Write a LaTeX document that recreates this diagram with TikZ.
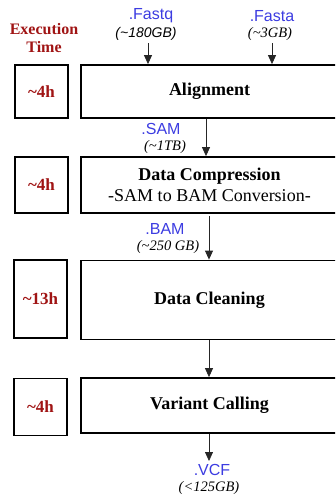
\documentclass[tikz,border=0pt]{standalone}
\usepackage{fontspec}
\setmainfont{Liberation Serif}
\newfontfamily\arialf{Liberation Sans}
\usetikzlibrary{arrows.meta}
\definecolor{dred}{RGB}{160,20,20}
\definecolor{fblue}{RGB}{60,60,225}
\tikzset{
  stagebox/.style={draw, line width=1.8pt, minimum width=257pt, inner sep=0pt, align=center, font=\fontsize{18}{21}\selectfont},
  timebox/.style={draw, line width=1.8pt, minimum width=53pt, inner sep=0pt, text=dred, font=\fontsize{17}{20}\selectfont\bfseries},
  ext/.style={text=fblue, inner sep=0pt, font=\arialf\fontsize{16}{18}\selectfont},
  sizeit/.style={inner sep=0pt, font=\fontsize{14.5}{17}\selectfont\itshape},
  arr/.style={-{Triangle[width=8pt,length=9pt]}, line width=0.8pt, black!85}
}
\begin{document}
\begin{tikzpicture}[x=1pt,y=-1pt]
\useasboundingbox (0,0) rectangle (335,498);
\clip (0,0) rectangle (335,498);
% header
\node[text=dred, inner sep=0pt, align=center, font=\fontsize{16}{17.5}\selectfont\bfseries] (hdr) at (44,38) {Execution\\Time};
% stages
\node[stagebox, minimum height=53pt] (align) at (209.5,91.5) {\bfseries Alignment};
\node[timebox, minimum height=53pt] (t1) at (41.5,91.5) {\textasciitilde 4h};
\node[stagebox, minimum height=56pt] (comp) at (209.5,185) {{\bfseries Data Compression}\\-SAM to BAM Conversion-};
\node[timebox, minimum height=56pt] (t2) at (41.5,185) {\textasciitilde 4h};
\node[stagebox, minimum height=79pt] (clean) at (209.5,300) {\bfseries Data Cleaning};
\node[timebox, minimum height=78pt] (t3) at (40.5,299) {\textasciitilde 13h};
\node[stagebox, minimum height=55pt] (var) at (209.5,405.5) {\bfseries Variant Calling};
\node[timebox, minimum height=57pt] (t4) at (40.5,407) {\textasciitilde 4h};
% inputs
\node[ext] (fastq) at (151,16) {.Fastq};
\node[inner sep=0pt, font=\arialf\fontsize{14}{16}\selectfont\itshape] (fastqs) at (146,34) {(\textasciitilde 180GB)};
\node[ext] (fasta) at (272,16) {.Fasta};
\node[sizeit] (fastas) at (270,34) {(\textasciitilde 3GB)};
\coordinate (fqa) at (148,43);
\coordinate (faa) at (272,43);
\draw[arr] (fqa) -- (align.north -| fqa);
\draw[arr] (faa) -- (align.north -| faa);
% SAM
\node[ext] (sam) at (161,129) {.SAM};
\node[sizeit] (sams) at (165,147) {(\textasciitilde 1TB)};
\coordinate (samx) at (206,0);
\draw[arr] (align.south -| samx) -- (comp.north -| samx);
% BAM
\node[ext] (bam) at (165,229) {.BAM};
\node[sizeit] (bams) at (168,247) {(\textasciitilde 250 GB)};
\coordinate (bamx) at (209,0);
\draw[arr] ([yshift=-2pt]comp.south -| bamx) -- (clean.north -| bamx);
\draw[arr] (clean.south -| bamx) -- (var.north -| bamx);
% VCF
\coordinate (vcfa) at (209,461);
\draw[arr] (var.south -| bamx) -- (vcfa);
\node[ext] (vcf) at (212,470) {.VCF};
\node[sizeit] (vcfs) at (209,488) {(<125GB)};
\end{tikzpicture}
\end{document}
